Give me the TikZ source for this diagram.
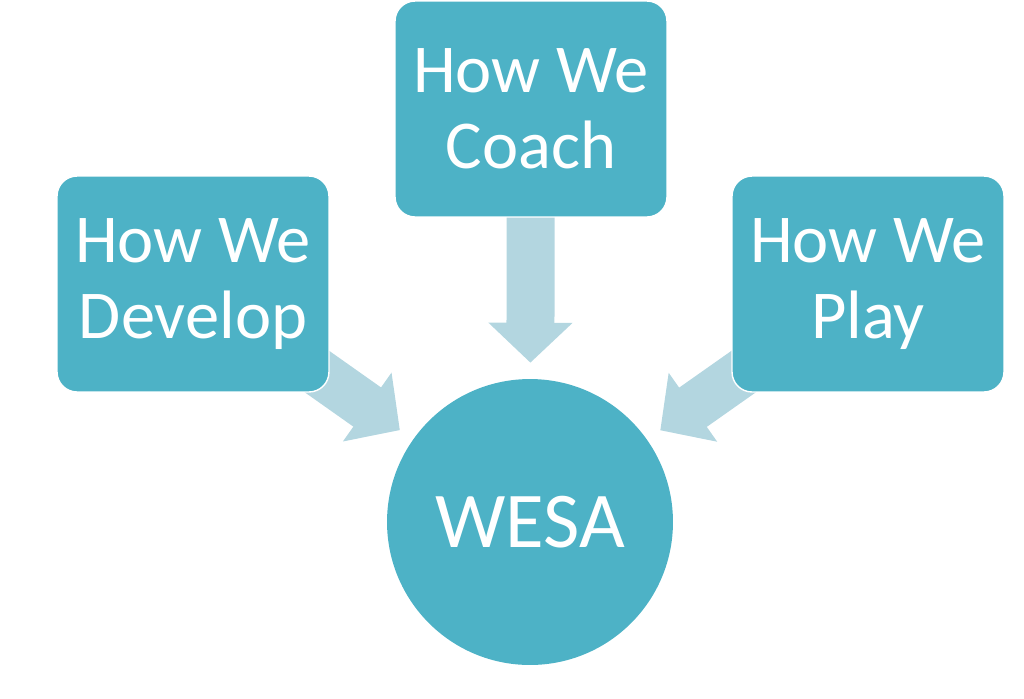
\documentclass[tikz,border=0pt]{standalone}
\usepackage{fontspec}
\setmainfont{Carlito}
\usetikzlibrary{arrows.meta,backgrounds}

\definecolor{boxteal}{HTML}{4DB2C6}
\definecolor{arrowblue}{HTML}{B3D6E0}

\tikzset{
  card/.style={rectangle, rounded corners=0.4cm, fill=boxteal, draw=white,
    line width=0.8pt, minimum width=5.44cm, minimum height=4.32cm,
    text=white, align=center, inner sep=0pt,
    font=\fontsize{39}{43}\selectfont},
  hub/.style={circle, fill=boxteal, minimum size=5.72cm, inner sep=0pt,
    text=white, font=\fontsize{45}{48}\selectfont},
  flow/.style={line width=0.96cm, arrowblue,
    -{Triangle[length=0.8cm,width=1.64cm]}, shorten >=0.32cm}
}

\begin{document}
\begin{tikzpicture}[x=0.02cm,y=-0.02cm]
  \useasboundingbox (0,0) rectangle (1024,698);

  % the three boxes and the hub
  \node[card] (develop) at (193,284) {How We\\Develop};
  \node[card] (coach)   at (531,109) {How We\\Coach};
  \node[card] (play)    at (868,284) {How We\\Play};
  \node[hub]  (wesa)    at (530,522) {WESA};

  % block arrows behind the boxes
  \begin{scope}[on background layer]
    \draw[flow] (develop.center) -- (wesa);
    \draw[flow] (coach.center) -- (wesa);
    \draw[flow] (play.center) -- (wesa);
  \end{scope}

\end{tikzpicture}
\end{document}
